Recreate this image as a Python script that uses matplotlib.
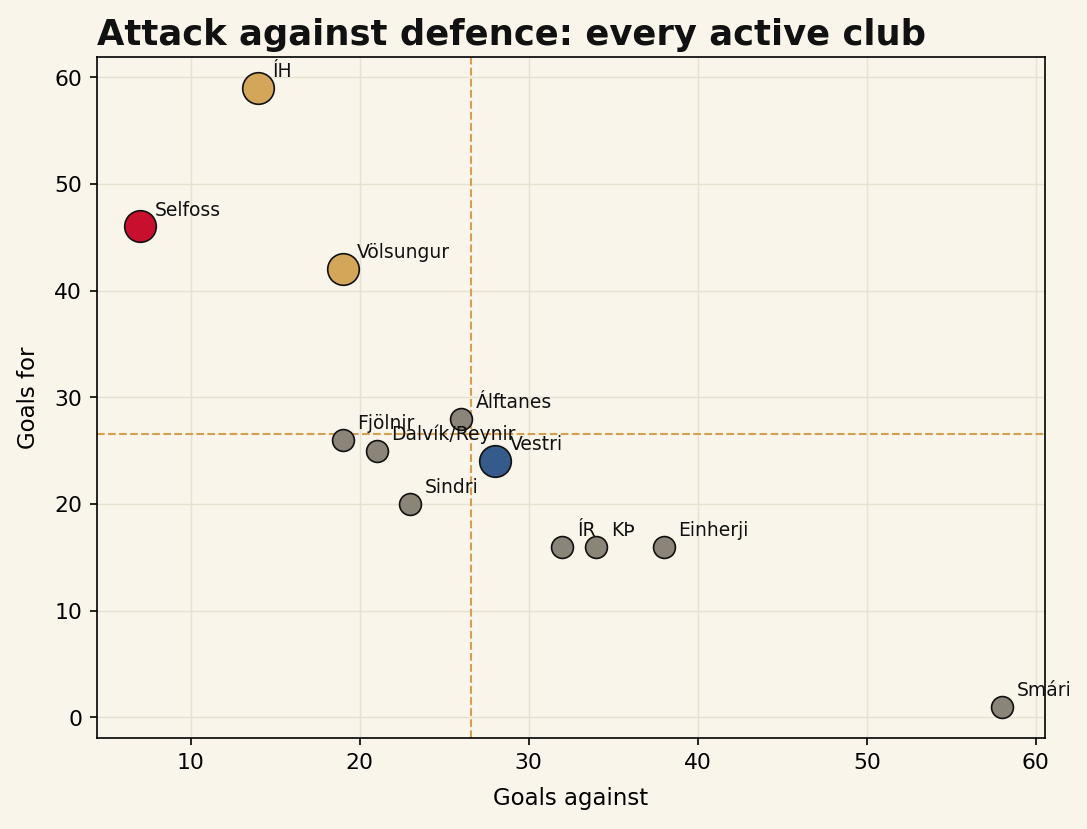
import matplotlib
matplotlib.use("Agg")
import matplotlib.pyplot as plt
import numpy as np

BG = "#f9f5ea"
COLORS = {
    "gold": "#d4a65a",
    "red": "#c8102e",
    "blue": "#345b8c",
    "grey": "#8b8579",
}

clubs = ["ÍH", "Selfoss", "Völsungur", "Álftanes", "Fjölnir", "Dalvík/Reynir",
         "Vestri", "Sindri", "ÍR", "KÞ", "Einherji", "Smári"]
goals_against = [14, 7, 19, 26, 19, 21, 28, 23, 32, 34, 38, 58]
goals_for = [59, 46, 42, 28, 26, 25, 24, 20, 16, 16, 16, 1]
highlight = ["gold", "red", "gold", "grey", "grey", "grey",
             "blue", "grey", "grey", "grey", "grey", "grey"]

fig, ax = plt.subplots(figsize=(7.25, 5.53), dpi=150)
fig.patch.set_facecolor(BG)
ax.set_facecolor(BG)

for name, x, y, h in zip(clubs, goals_against, goals_for, highlight):
    size = 110 if h == "grey" else 230
    ax.scatter(x, y, s=size, color=COLORS[h], edgecolor="#111111",
               linewidth=0.8, zorder=3)
    ax.annotate(name, (x, y), xytext=(7, 3.5), textcoords="offset points",
                fontsize=9, color="#111111", va="bottom", zorder=4)

ax.axvline(np.mean(goals_against), color="#d4a04f", linestyle="--", linewidth=1, zorder=2)
ax.axhline(np.mean(goals_for), color="#d4a04f", linestyle="--", linewidth=1, zorder=2)

ax.grid(True, color="#e7e1d1", linewidth=0.7, zorder=0)
ax.set_axisbelow(True)
ax.tick_params(labelsize=10.5)
ax.set_xlabel("Goals against", fontsize=11, labelpad=7)
ax.set_ylabel("Goals for", fontsize=11, labelpad=7)
ax.set_title("Attack against defence: every active club", loc="left",
             fontsize=17, fontweight="bold", color="#111111")

fig.subplots_adjust(left=0.089, right=0.961, top=0.931, bottom=0.11)
fig.savefig("out.png", dpi=150, facecolor=BG)
